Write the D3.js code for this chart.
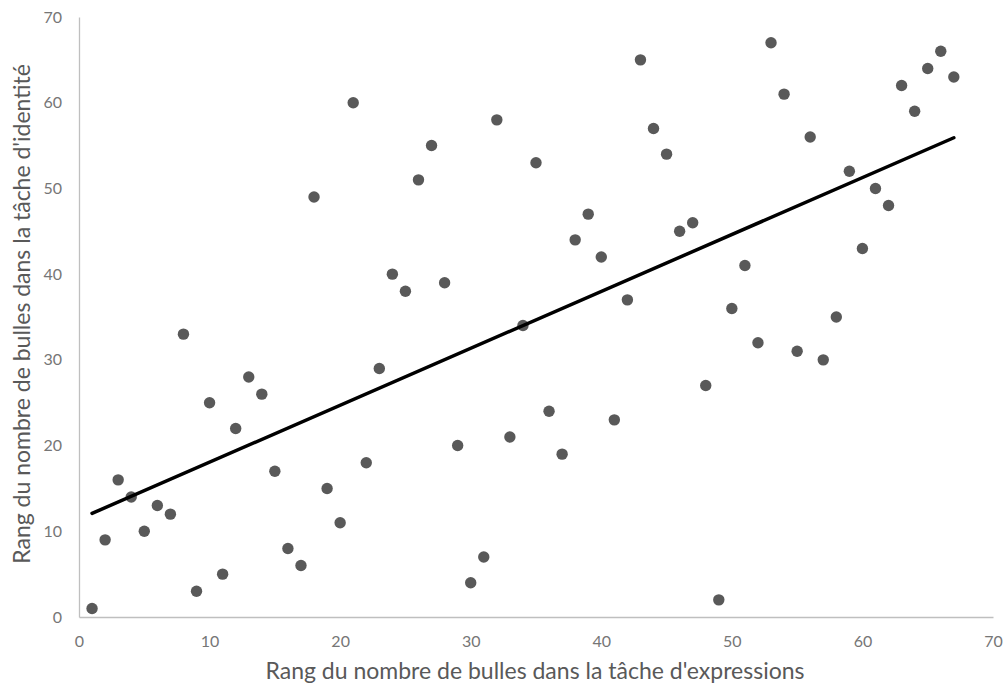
<!DOCTYPE html>
<html>
<head>
<meta charset="utf-8">
<script src="https://cdn.jsdelivr.net/npm/d3@7"></script>
<style>
  body { margin: 0; background: #fff; }
  text { font-family: Lato, "Open Sans", sans-serif; fill: #595959; }
</style>
</head>
<body>
<svg class="scatter" width="1008" height="687"></svg>
<script>
  // x : rang expressions, y : rang identité
  const rangExpressions = d3.range(1, 68);
  const rangIdentite = [1, 9, 16, 14, 10, 13, 12, 33, 3, 25, 5, 22, 28, 26, 17, 8, 6, 49, 15, 11,
    60, 18, 29, 40, 38, 51, 55, 39, 20, 4, 7, 58, 21, 34, 53, 24, 19, 44, 47, 42,
    23, 37, 65, 57, 54, 45, 46, 27, 2, 36, 41, 32, 67, 61, 31, 56, 30, 35, 52, 43,
    50, 48, 62, 59, 64, 66, 63];
  const xTicks = [0, 10, 20, 30, 40, 50, 60, 70];
  const yTicks = [0, 10, 20, 30, 40, 50, 60, 70];

  const data = rangExpressions.map((x, i) => ({ x: x, y: rangIdentite[i] }));

  const svg = d3.select('.scatter');
  const margin = { top: 17, right: 15, bottom: 70, left: 79 };
  const width = +svg.attr('width');
  const height = +svg.attr('height');
  const innerWidth = width - margin.left - margin.right;
  const innerHeight = height - margin.top - margin.bottom;

  const xScale = d3.scaleLinear().domain([0, 70]).range([0, innerWidth]);
  const yScale = d3.scaleLinear().domain([0, 70]).range([innerHeight, 0]);

  const g = svg.append('g')
    .attr('transform', `translate(${margin.left},${margin.top})`);

  const xAxis = g.append('g')
    .attr('transform', `translate(0,${innerHeight})`)
    .call(d3.axisBottom(xScale).tickValues(xTicks).tickSize(0).tickPadding(19));
  const yAxis = g.append('g')
    .call(d3.axisLeft(yScale).tickValues(yTicks).tickSize(0).tickPadding(17));

  [xAxis, yAxis].forEach(ax => {
    ax.select('.domain').attr('stroke', '#bfbfbf').attr('stroke-width', 1.3);
    ax.selectAll('text').attr('font-size', 16)
      .style('fill', '#767676')
      .style('font-family', 'Lato, sans-serif');
  });

  g.selectAll('circle').data(data)
    .enter().append('circle')
      .attr('cx', d => xScale(d.x))
      .attr('cy', d => yScale(d.y))
      .attr('r', 5.7)
      .attr('fill', '#595959');

  // droite de tendance (moindres carrés)
  const mx = d3.mean(data, d => d.x);
  const my = d3.mean(data, d => d.y);
  const slope = d3.sum(data, d => (d.x - mx) * (d.y - my)) / d3.sum(data, d => (d.x - mx) ** 2);
  const intercept = my - slope * mx;
  const x0 = d3.min(rangExpressions);
  const x1 = d3.max(rangExpressions);
  g.append('line')
    .attr('x1', xScale(x0)).attr('y1', yScale(intercept + slope * x0))
    .attr('x2', xScale(x1)).attr('y2', yScale(intercept + slope * x1))
    .attr('stroke', '#000').attr('stroke-width', 3.5).attr('stroke-linecap', 'round');

  svg.append('text')
    .attr('x', margin.left + innerWidth / 2 - 1)
    .attr('y', 679)
    .attr('text-anchor', 'middle')
    .attr('font-size', 23)
    .text("Rang du nombre de bulles dans la tâche d'expressions");

  svg.append('text')
    .attr('transform', `translate(30,314) rotate(-90)`)
    .attr('text-anchor', 'middle')
    .attr('font-size', 23)
    .text("Rang du nombre de bulles dans la tâche d'identité");
</script>
</body>
</html>
